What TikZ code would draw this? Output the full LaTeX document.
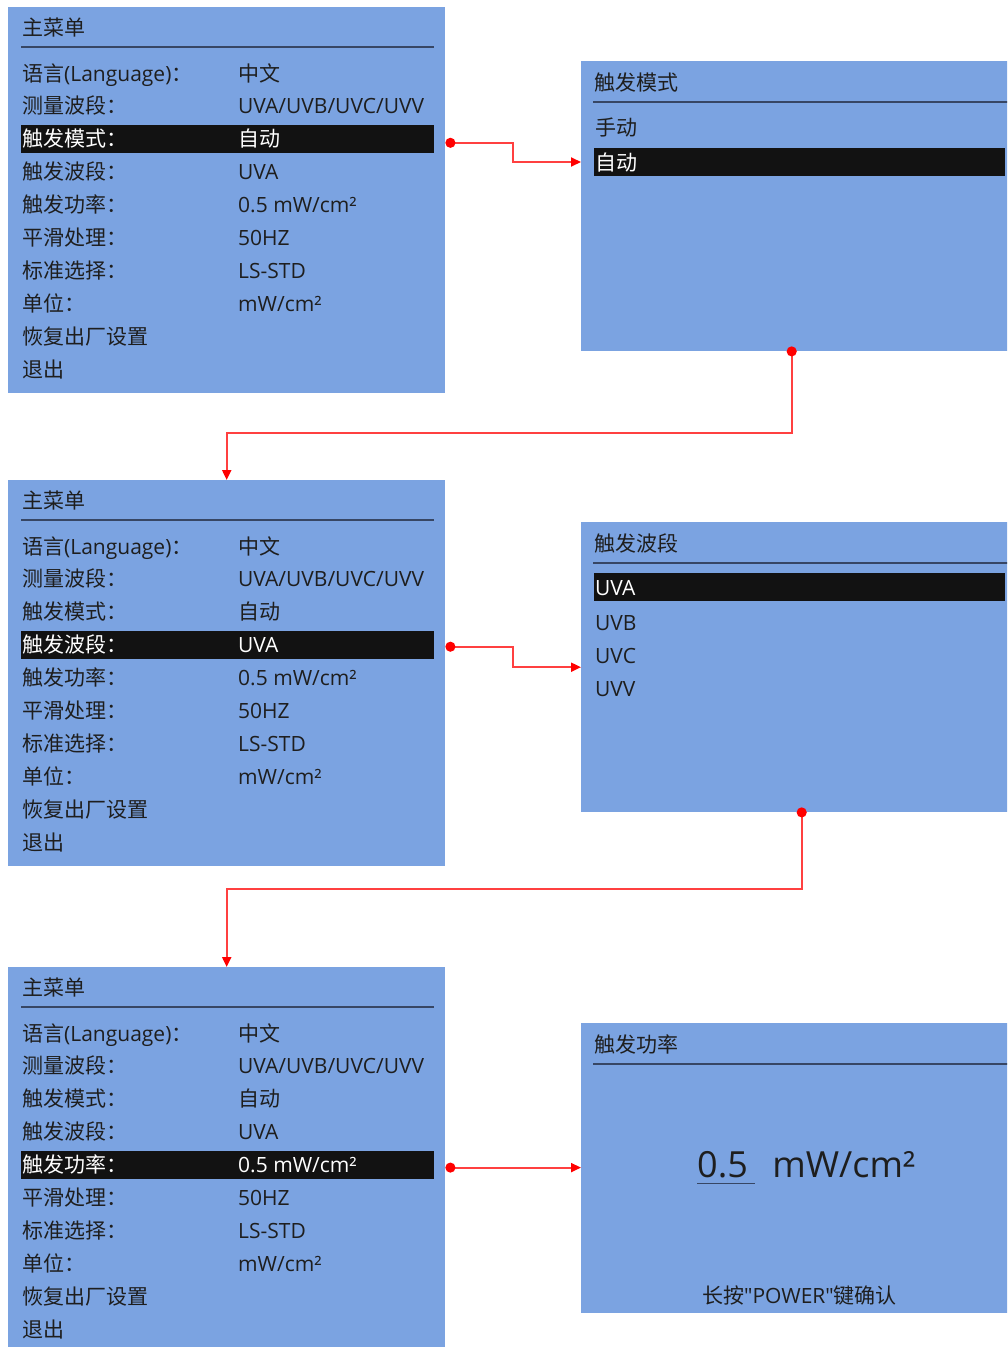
\documentclass[tikz,border=0pt]{standalone}
\usepackage{fontspec}
\setmainfont{Noto Sans CJK SC}
\newfontfamily\lat{Open Sans}[Ligatures=TeXOff]
\usetikzlibrary{positioning,arrows.meta}

\definecolor{panelblue}{RGB}{123,163,225}
\definecolor{ink}{RGB}{30,30,30}
\definecolor{rulecol}{RGB}{55,70,100}

\newcommand{\mainmenu}[3]{%
  \begin{scope}[shift={#2}]
    \node [name=#1, panel, minimum height=386pt] at (0,0) {};
    \node [item] at (14,20) {主菜单};
    \draw [rule] (13,40) -- (426,40);
    \node [name=#1hl, hlbar, minimum width=413pt] at (13,{66+32.9*#3}) {};
    \foreach \i/\lab/\val in {0/{语言{\lat(Language)}：}/{中文},
        1/{测量波段：}/{\lat UVA/UVB/UVC/UVV}, 2/{触发模式：}/{自动},
        3/{触发波段：}/{\lat UVA}, 4/{触发功率：}/{\lat 0.5 mW/cm²},
        5/{平滑处理：}/{\lat 50HZ}, 6/{标准选择：}/{\lat LS-STD},
        7/{单位：}/{\lat mW/cm²}} {
      \ifnum\i=#3 \def\rowcol{white}\else\def\rowcol{ink}\fi
      \node [item, text=\rowcol] at (14,{66+32.9*\i}) {\lab};
      \node [item, text=\rowcol] at (230,{66+32.9*\i}) {\val};
    }
    \node [item] at (14,{66+32.9*8}) {恢复出厂设置};
    \node [item] at (14,{66+32.9*9}) {退出};
  \end{scope}}

\begin{document}
\begin{tikzpicture}[x=1pt, y=-1pt,
	panel/.style = { rectangle, fill=panelblue, anchor=north west,
	minimum width=437pt, inner sep=0pt },
	hlbar/.style = { rectangle, fill=black!93, anchor=west,
	minimum height=28pt, inner sep=0pt },
	item/.style = { anchor=west, inner sep=0pt, text=ink,
	text height=17.5pt, text depth=1.5pt, font=\fontsize{21}{25}\selectfont },
	big/.style = { inner sep=0pt, text=ink, font=\lat\fontsize{36}{40}\selectfont },
	rule/.style = { draw=rulecol, line width=1.6pt },
	conn/.style = { draw=red!75, line width=2pt,
	{Circle[length=10pt,color=red]}-{Triangle[length=10pt,width=9pt,color=red]} } ]

  \useasboundingbox (0,0) rectangle (1007,1347);
  \clip (0,0) rectangle (1007,1347);

  \mainmenu{menuA}{(8,7)}{2}
  \mainmenu{menuB}{(8,480)}{3}
  \mainmenu{menuC}{(8,967)}{4}

  \begin{scope}[shift={(581,61)}]
    \node [name=modePanel, panel, minimum height=290pt] at (0,0) {};
    \node [item] at (13,21) {触发模式};
    \draw [rule] (12,41) -- (437,41);
    \node [name=modeAuto, hlbar, minimum width=411pt] at (13,101) {};
    \node [item] at (14,66) {手动};
    \node [item, text=white] at (14,101) {自动};
  \end{scope}

  \begin{scope}[shift={(581,522)}]
    \node [name=bandPanel, panel, minimum height=290pt] at (0,0) {};
    \node [item] at (13,21) {触发波段};
    \draw [rule] (12,41) -- (437,41);
    \node [name=bandUVA, hlbar, minimum width=411pt] at (13,65) {};
    \node [item, text=white] at (14,65) {\lat UVA};
    \node [item] at (14,100) {\lat UVB};
    \node [item] at (14,133) {\lat UVC};
    \node [item] at (14,166) {\lat UVV};
  \end{scope}

  \begin{scope}[shift={(581,1023)}]
    \node [name=powPanel, panel, minimum height=290pt] at (0,0) {};
    \node [item] at (13,21) {触发功率};
    \draw [rule] (12,41) -- (437,41);
    \node [name=powNum, big, anchor=base west] at (116,154) {0.5};
    \node [name=powUnit, big, anchor=base west] at ([xshift=24pt]powNum.base east) {mW/cm²};
    \draw [rule, line width=1.3pt] ([yshift=-6pt]powNum.south west) -- ([yshift=-6pt,xshift=7pt]powNum.south east);
    \node [item, anchor=center] at (218.5,272) {长按{\lat "POWER"}键确认};
  \end{scope}

  \draw [conn] ([shift={(11,4)}]menuAhl.east) -- ++(68,0) |- (modePanel.west |- modeAuto);
  \draw [conn] ([yshift=5pt,xshift=-8pt]modePanel.south) -- ++(0,87) -| (menuB.north);
  \draw [conn] ([shift={(11,2)}]menuBhl.east) -- ++(68,0) |- (bandPanel.west);
  \draw [conn] ([yshift=5pt,xshift=2pt]bandPanel.south) -- ++(0,82) -| (menuC.north);
  \draw [conn] ([shift={(11,3)}]menuChl.east) coordinate (powStart) -- (powStart -| powPanel.west);
\end{tikzpicture}
\end{document}
